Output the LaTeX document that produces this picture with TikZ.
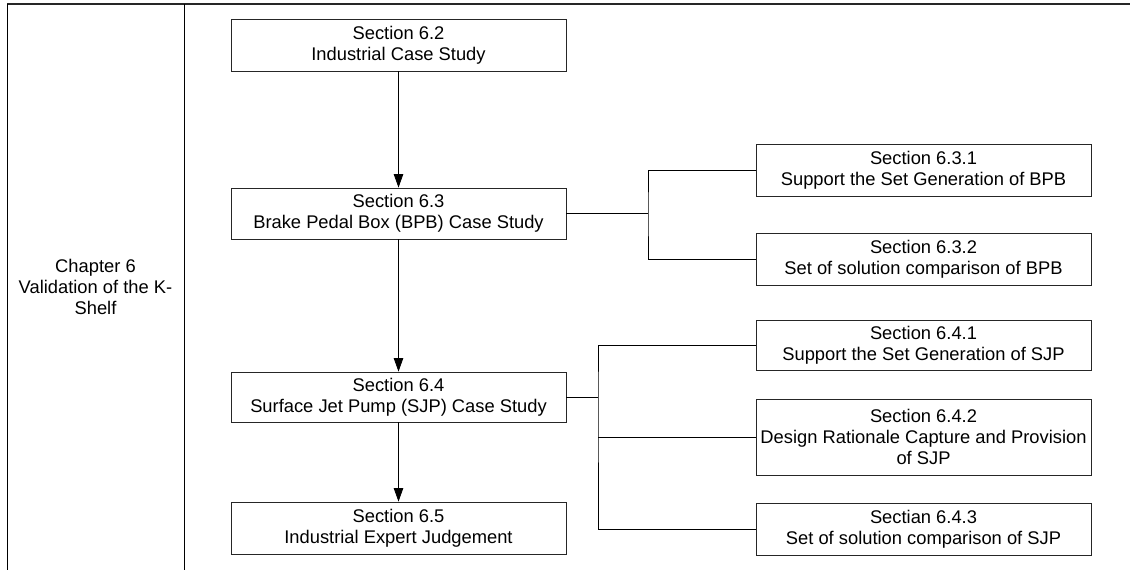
\documentclass[tikz,border=0pt]{standalone}
\usepackage{fontspec}
\setmainfont{Liberation Sans}
\usetikzlibrary{arrows.meta}

\tikzset{
  secbox/.style={draw=black!85, line width=0.8bp, fill=white, inner sep=0pt,
    align=center, font=\fontsize{18.4}{21.2}\selectfont, minimum width=335bp},
  link/.style={draw=black, line width=0.8bp},
  arr/.style={link, -{Triangle[length=13.5bp,width=9.5bp]}},
  frame/.style={draw=black, line width=1bp},
}

\begin{document}
\begin{tikzpicture}[x=1bp, y=-1bp]
  \useasboundingbox (0,0) rectangle (1130,570);

  % table frame with the chapter column
  \draw[frame, line width=1.6bp, draw=black!85] (7,4) -- (1130,4);
  \draw[frame] (7,4) -- (7,570);
  \draw[frame] (184,4) -- (184,570);
  \node[align=center, inner sep=0pt, font=\fontsize{18.4}{21.2}\selectfont] (chap) at (95.5,287)
    {Chapter 6\\Validation of the K-\\Shelf};

  % main chain of sections
  \node[secbox, minimum height=52bp] (s62) at (398.5,45)
    {Section 6.2\\Industrial Case Study};
  \node[secbox, minimum height=51bp] (s63) at (398.5,213.5)
    {Section 6.3\\Brake Pedal Box (BPB) Case Study};
  \node[secbox, minimum height=50bp] (s64) at (398.5,397)
    {Section 6.4\\Surface Jet Pump (SJP) Case Study};
  \node[secbox, minimum height=52bp] (s65) at (398.5,528)
    {Section 6.5\\Industrial Expert Judgement};

  % BPB subsections
  \node[secbox, minimum height=52bp] (s631) at (923.5,170)
    {Section 6.3.1\\Support the Set Generation of BPB};
  \node[secbox, minimum height=52bp] (s632) at (923.5,259)
    {Section 6.3.2\\Set of solution comparison of BPB};

  % SJP subsections
  \node[secbox, minimum height=50bp] (s641) at (923.5,345)
    {Section 6.4.1\\Support the Set Generation of SJP};
  \node[secbox, minimum height=76bp] (s642) at (923.5,437)
    {Section 6.4.2\\Design Rationale Capture and Provision\\of SJP};
  \node[secbox, minimum height=52bp] (s643) at (923.5,529)
    {Sectian 6.4.3\\Set of solution comparison of SJP};

  % arrows down the chain
  \draw[arr] (s62) -- (s63);
  \draw[arr] (s63) -- (s64);
  \draw[arr] (s64) -- (s65);

  % branch to the BPB subsections
  \coordinate (j1) at (648,213.5);
  \draw[link] (s63.east) -- (j1);
  \draw[link] (s631.west) -| (j1) |- (s632.west);

  % branch to the SJP subsections
  \coordinate (j2) at (598,397);
  \draw[link] (s64.east) -- (j2);
  \draw[link] (s641.west) -| (j2) |- (s643.west);
  \draw[link] (j2 |- s642.west) -- (s642.west);
\end{tikzpicture}
\end{document}
